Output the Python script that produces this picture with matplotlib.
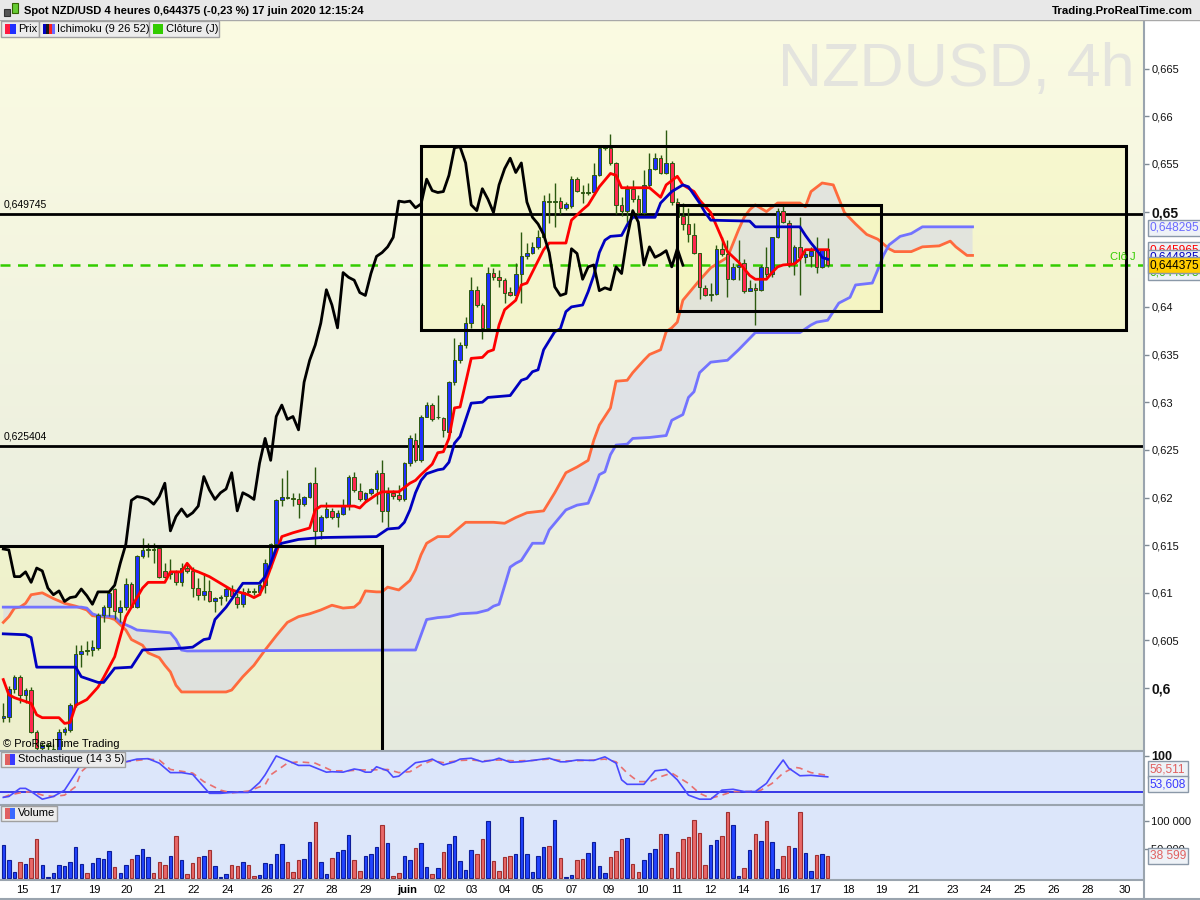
import numpy as np
import matplotlib
matplotlib.use("Agg")
import matplotlib.pyplot as plt
from matplotlib.patches import Rectangle, Polygon

plt.rcParams['font.family'] = ['Liberation Sans', 'DejaVu Sans']

# ---- 4h candles NZD/USD ----
open_ = [0.5969, 0.5970, 0.5999, 0.6012, 0.5993, 0.5998, 0.5954, 0.5937, 0.5939, 0.5934,
         0.5935, 0.5954, 0.5956, 0.5982, 0.6036, 0.6040, 0.6040, 0.6042, 0.6077, 0.6085,
         0.6104, 0.6080, 0.6085, 0.6109, 0.6085, 0.6139, 0.6145, 0.6146, 0.6147, 0.6123,
         0.6120, 0.6122, 0.6111, 0.6126, 0.6123, 0.6105, 0.6098, 0.6102, 0.6091, 0.6095,
         0.6097, 0.6104, 0.6096, 0.6088, 0.6102, 0.6102, 0.6101, 0.6108, 0.6131, 0.6151,
         0.6197, 0.6201, 0.6200, 0.6198, 0.6193, 0.6201, 0.6215, 0.6165, 0.6180, 0.6186,
         0.6180, 0.6183, 0.6191, 0.6222, 0.6207, 0.6198, 0.6205, 0.6209, 0.6226, 0.6186,
         0.6205, 0.6203, 0.6198, 0.6236, 0.6260, 0.6239, 0.6285, 0.6297, 0.6284, 0.6283,
         0.6269, 0.6321, 0.6344, 0.6360, 0.6383, 0.6418, 0.6402, 0.6378, 0.6436, 0.6431,
         0.6428, 0.6416, 0.6412, 0.6435, 0.6453, 0.6457, 0.6463, 0.6473, 0.6511, 0.6510,
         0.6511, 0.6504, 0.6506, 0.6534, 0.6521, 0.6520, 0.6521, 0.6538, 0.6567, 0.6567,
         0.6551, 0.6507, 0.6501, 0.6524, 0.6513, 0.6499, 0.6528, 0.6545, 0.6556, 0.6541,
         0.6551, 0.6510, 0.6495, 0.6487, 0.6475, 0.6457, 0.6420, 0.6412, 0.6414, 0.6461,
         0.6456, 0.6429, 0.6442, 0.6446, 0.6417, 0.6420, 0.6418, 0.6442, 0.6435, 0.6473,
         0.6501, 0.6488, 0.6446, 0.6463, 0.6452, 0.6453, 0.6459, 0.6442, 0.6461]
high_ = [0.5984, 0.6002, 0.6014, 0.6014, 0.6000, 0.6001, 0.5956, 0.5943, 0.5942, 0.5941,
         0.5957, 0.5959, 0.5984, 0.6045, 0.6045, 0.6049, 0.6051, 0.6079, 0.6087, 0.6102,
         0.6105, 0.6093, 0.6116, 0.6111, 0.6140, 0.6158, 0.6152, 0.6152, 0.6150, 0.6131,
         0.6135, 0.6124, 0.6131, 0.6131, 0.6127, 0.6116, 0.6121, 0.6113, 0.6096, 0.6098,
         0.6106, 0.6108, 0.6100, 0.6105, 0.6105, 0.6105, 0.6113, 0.6135, 0.6152, 0.6198,
         0.6221, 0.6229, 0.6205, 0.6205, 0.6202, 0.6216, 0.6232, 0.6182, 0.6195, 0.6189,
         0.6187, 0.6198, 0.6224, 0.6227, 0.6215, 0.6206, 0.6210, 0.6229, 0.6239, 0.6211,
         0.6208, 0.6213, 0.6237, 0.6266, 0.6268, 0.6287, 0.6300, 0.6299, 0.6308, 0.6284,
         0.6322, 0.6367, 0.6363, 0.6389, 0.6431, 0.6422, 0.6404, 0.6442, 0.6441, 0.6439,
         0.6430, 0.6421, 0.6446, 0.6479, 0.6467, 0.6468, 0.6481, 0.6517, 0.6519, 0.6530,
         0.6515, 0.6510, 0.6537, 0.6536, 0.6528, 0.6530, 0.6551, 0.6568, 0.6569, 0.6581,
         0.6552, 0.6515, 0.6528, 0.6533, 0.6517, 0.6544, 0.6561, 0.6561, 0.6559, 0.6586,
         0.6553, 0.6514, 0.6509, 0.6504, 0.6488, 0.6457, 0.6423, 0.6425, 0.6465, 0.6473,
         0.6470, 0.6446, 0.6470, 0.6450, 0.6428, 0.6425, 0.6444, 0.6463, 0.6473, 0.6504,
         0.6507, 0.6491, 0.6465, 0.6494, 0.6459, 0.6463, 0.6473, 0.6461, 0.6472]
low_ = [0.5964, 0.5964, 0.5995, 0.5984, 0.5984, 0.5953, 0.5933, 0.5927, 0.5930, 0.5928,
        0.5930, 0.5951, 0.5954, 0.5980, 0.6022, 0.6035, 0.6034, 0.6040, 0.6069, 0.6076,
        0.6073, 0.6069, 0.6082, 0.6084, 0.6084, 0.6137, 0.6138, 0.6131, 0.6116, 0.6116,
        0.6114, 0.6108, 0.6107, 0.6121, 0.6096, 0.6093, 0.6093, 0.6090, 0.6080, 0.6087,
        0.6091, 0.6095, 0.6084, 0.6085, 0.6098, 0.6098, 0.6098, 0.6100, 0.6126, 0.6150,
        0.6191, 0.6198, 0.6191, 0.6179, 0.6191, 0.6200, 0.6150, 0.6157, 0.6179, 0.6177,
        0.6169, 0.6182, 0.6187, 0.6206, 0.6196, 0.6196, 0.6203, 0.6193, 0.6174, 0.6169,
        0.6198, 0.6196, 0.6196, 0.6233, 0.6237, 0.6237, 0.6284, 0.6280, 0.6282, 0.6263,
        0.6269, 0.6318, 0.6341, 0.6357, 0.6378, 0.6400, 0.6366, 0.6378, 0.6428, 0.6421,
        0.6404, 0.6411, 0.6411, 0.6404, 0.6450, 0.6456, 0.6461, 0.6472, 0.6488, 0.6484,
        0.6497, 0.6502, 0.6504, 0.6521, 0.6509, 0.6517, 0.6517, 0.6537, 0.6565, 0.6549,
        0.6497, 0.6495, 0.6486, 0.6510, 0.6497, 0.6497, 0.6526, 0.6544, 0.6539, 0.6539,
        0.6507, 0.6491, 0.6481, 0.6468, 0.6456, 0.6408, 0.6411, 0.6406, 0.6412, 0.6453,
        0.6410, 0.6428, 0.6428, 0.6415, 0.6417, 0.6381, 0.6417, 0.6431, 0.6431, 0.6472,
        0.6488, 0.6442, 0.6433, 0.6412, 0.6446, 0.6442, 0.6436, 0.6441, 0.6442]
close_ = [0.5971, 0.5999, 0.6012, 0.5993, 0.5998, 0.5954, 0.5937, 0.5940, 0.5940, 0.5936,
          0.5954, 0.5957, 0.5982, 0.6036, 0.6039, 0.6039, 0.6043, 0.6077, 0.6085, 0.6100,
          0.6081, 0.6085, 0.6109, 0.6085, 0.6139, 0.6145, 0.6146, 0.6145, 0.6117, 0.6117,
          0.6122, 0.6111, 0.6126, 0.6123, 0.6105, 0.6098, 0.6102, 0.6091, 0.6095, 0.6096,
          0.6104, 0.6097, 0.6088, 0.6101, 0.6101, 0.6101, 0.6108, 0.6131, 0.6151, 0.6197,
          0.6201, 0.6200, 0.6198, 0.6193, 0.6201, 0.6215, 0.6165, 0.6180, 0.6188, 0.6180,
          0.6184, 0.6191, 0.6222, 0.6208, 0.6198, 0.6205, 0.6209, 0.6226, 0.6186, 0.6205,
          0.6202, 0.6198, 0.6236, 0.6262, 0.6239, 0.6285, 0.6297, 0.6282, 0.6285, 0.6271,
          0.6321, 0.6344, 0.6360, 0.6383, 0.6418, 0.6402, 0.6378, 0.6436, 0.6431, 0.6428,
          0.6415, 0.6412, 0.6435, 0.6453, 0.6457, 0.6463, 0.6473, 0.6511, 0.6510, 0.6511,
          0.6504, 0.6508, 0.6534, 0.6522, 0.6520, 0.6521, 0.6538, 0.6567, 0.6568, 0.6551,
          0.6507, 0.6501, 0.6524, 0.6513, 0.6499, 0.6528, 0.6545, 0.6556, 0.6541, 0.6551,
          0.6510, 0.6494, 0.6487, 0.6476, 0.6457, 0.6421, 0.6412, 0.6414, 0.6461, 0.6456,
          0.6429, 0.6442, 0.6444, 0.6417, 0.6420, 0.6418, 0.6442, 0.6435, 0.6473, 0.6501,
          0.6489, 0.6444, 0.6463, 0.6452, 0.6455, 0.6459, 0.6442, 0.6461, 0.644375]
volume = [58500, 32200, 10500, 28100, 24600, 35100, 68400, 23400, 1200, 8800,
          23400, 21600, 28100, 54400, 24600, 8800, 26300, 35100, 33900, 48000,
          19300, 8800, 23400, 33900, 41000, 51500, 36300, 8800, 28100, 23400,
          39200, 74300, 32200, 7600, 26300, 36900, 39200, 49700, 21600, 1200,
          7000, 23400, 21600, 28100, 23400, 4100, 5900, 26300, 24600, 42700,
          60300, 27500, 10500, 32200, 33900, 63200, 98300, 28100, 7600, 35100,
          45600, 49700, 76100, 32200, 12900, 39200, 42700, 54400, 93600, 61400,
          4100, 8800, 39200, 32200, 52700, 61400, 19900, 7000, 17600, 45600,
          59700, 73700, 29800, 14000, 49700, 42100, 68400, 100600, 29800, 12300,
          36900, 38600, 42100, 107100, 42100, 10500, 38600, 54400, 56200, 101800,
          35100, 1800, 5300, 31600, 33300, 43900, 63200, 21100, 8800, 36900,
          47400, 68400, 70200, 24600, 10500, 31600, 43900, 50900, 77200, 77200,
          17600, 45600, 68400, 72000, 101800, 79000, 22800, 57900, 66700, 73700,
          115800, 93000, 3500, 17600, 49100, 77200, 64900, 100000, 63200, 15800,
          38600, 56200, 52700, 115800, 43900, 12300, 40400, 42100, 38599]

# ---- Ichimoku (9 26 52), sampled along each line ----
tenkan_idx = [0, 1, 2, 3, 5, 6, 7, 10, 11, 12, 13, 15, 17, 18, 20, 21, 22, 23, 25, 26,
              29, 30, 32, 33, 34, 35, 37, 39, 41, 44, 45, 46, 47, 49, 50, 52, 55, 56, 57, 63,
              64, 65, 67, 68, 71, 73, 74, 75, 77, 78, 79, 80, 81, 82, 84, 86, 87, 88, 89, 90,
              92, 93, 94, 97, 98, 101, 102, 104, 105, 107, 109, 110, 111, 116, 118, 119, 121, 122, 124, 125,
              127, 129, 130, 132, 134, 135, 137, 138, 139, 140, 142, 143, 144, 148]
tenkan = [0.6009, 0.5993, 0.5990, 0.5988, 0.5984, 0.5972, 0.5969, 0.5969, 0.5963, 0.5964,
          0.5982, 0.5988, 0.6001, 0.6011, 0.6033, 0.6054, 0.6075, 0.6085, 0.6105, 0.6111,
          0.6111, 0.6122, 0.6122, 0.6131, 0.6124, 0.6122, 0.6117, 0.6110, 0.6103, 0.6098,
          0.6095, 0.6098, 0.6110, 0.6142, 0.6159, 0.6163, 0.6168, 0.6187, 0.6191, 0.6191,
          0.6189, 0.6195, 0.6203, 0.6206, 0.6206, 0.6215, 0.6218, 0.6224, 0.6235, 0.6247,
          0.6248, 0.6262, 0.6294, 0.6295, 0.6346, 0.6347, 0.6353, 0.6355, 0.6381, 0.6397,
          0.6407, 0.6423, 0.6425, 0.6460, 0.6467, 0.6467, 0.6491, 0.6502, 0.6507, 0.6526,
          0.6540, 0.6538, 0.6525, 0.6525, 0.6515, 0.6528, 0.6537, 0.6528, 0.6521, 0.6512,
          0.6499, 0.6472, 0.6458, 0.6447, 0.6433, 0.6429, 0.6429, 0.6436, 0.6442, 0.6444,
          0.6445, 0.6450, 0.6460, 0.6460]
kijun_idx = [0, 4, 5, 6, 13, 14, 17, 18, 20, 23, 25, 32, 34, 36, 37, 38, 40, 43, 46, 47,
             48, 49, 50, 53, 57, 67, 68, 69, 71, 72, 73, 74, 75, 76, 78, 79, 80, 81, 82, 84,
             86, 87, 91, 93, 94, 95, 96, 97, 99, 100, 101, 102, 104, 105, 106, 107, 108, 109, 111, 112,
             113, 117, 118, 120, 122, 123, 125, 126, 127, 134, 135, 143, 144, 145, 146, 147, 148]
kijun = [0.6057, 0.6056, 0.6053, 0.6022, 0.6022, 0.6012, 0.6006, 0.6006, 0.6021, 0.6022,
         0.6040, 0.6042, 0.6043, 0.6051, 0.6052, 0.6072, 0.6085, 0.6110, 0.6110, 0.6117,
         0.6131, 0.6147, 0.6152, 0.6156, 0.6158, 0.6159, 0.6163, 0.6167, 0.6168, 0.6174,
         0.6187, 0.6205, 0.6218, 0.6225, 0.6229, 0.6230, 0.6237, 0.6257, 0.6264, 0.6299,
         0.6300, 0.6305, 0.6307, 0.6323, 0.6325, 0.6332, 0.6334, 0.6355, 0.6374, 0.6377,
         0.6395, 0.6400, 0.6402, 0.6416, 0.6433, 0.6457, 0.6470, 0.6474, 0.6475, 0.6486,
         0.6494, 0.6494, 0.6509, 0.6521, 0.6528, 0.6526, 0.6509, 0.6499, 0.6491, 0.6490,
         0.6484, 0.6484, 0.6475, 0.6467, 0.6460, 0.6452, 0.6450]
senkou_a_idx = [0, 1, 2, 3, 4, 5, 7, 9, 11, 13, 15, 16, 19, 20, 22, 23, 25, 26, 28, 29,
                30, 31, 32, 40, 41, 43, 45, 47, 49, 51, 53, 55, 57, 59, 61, 63, 64, 65, 67, 68,
                69, 71, 73, 74, 75, 76, 78, 80, 81, 82, 83, 88, 90, 92, 94, 97, 99, 101, 103, 105,
                106, 107, 109, 110, 112, 113, 115, 116, 118, 119, 120, 121, 122, 125, 127, 130, 132, 133, 134, 135,
                137, 139, 143, 144, 145, 147, 149, 151, 153, 155, 157, 159, 160, 163, 165, 168, 170, 171, 173, 174]
senkou_a = [0.6069, 0.6075, 0.6084, 0.6085, 0.6089, 0.6098, 0.6100, 0.6094, 0.6089, 0.6086,
            0.6082, 0.6076, 0.6074, 0.6072, 0.6061, 0.6051, 0.6045, 0.6037, 0.6032, 0.6024,
            0.6017, 0.6003, 0.5996, 0.5996, 0.5998, 0.6012, 0.6024, 0.6040, 0.6055, 0.6069,
            0.6075, 0.6078, 0.6082, 0.6087, 0.6084, 0.6085, 0.6090, 0.6102, 0.6101, 0.6101,
            0.6106, 0.6103, 0.6113, 0.6124, 0.6140, 0.6152, 0.6159, 0.6159, 0.6164, 0.6169,
            0.6174, 0.6174, 0.6173, 0.6179, 0.6184, 0.6186, 0.6205, 0.6226, 0.6232, 0.6239,
            0.6260, 0.6276, 0.6294, 0.6322, 0.6323, 0.6331, 0.6344, 0.6350, 0.6355, 0.6374,
            0.6378, 0.6384, 0.6407, 0.6428, 0.6441, 0.6452, 0.6481, 0.6494, 0.6502, 0.6507,
            0.6500, 0.6509, 0.6509, 0.6505, 0.6521, 0.6530, 0.6528, 0.6499, 0.6487, 0.6476,
            0.6471, 0.6461, 0.6458, 0.6458, 0.6463, 0.6464, 0.6469, 0.6463, 0.6454, 0.6454]
senkou_b_idx = [0, 14, 15, 16, 17, 20, 21, 23, 24, 30, 31, 32, 33, 72, 74, 76, 78, 80, 82, 85,
                87, 88, 89, 91, 92, 93, 95, 97, 98, 99, 101, 103, 105, 106, 107, 108, 109, 110, 112, 113,
                116, 119, 120, 122, 123, 124, 125, 127, 130, 132, 135, 143, 145, 146, 148, 150, 152, 153, 156, 157,
                158, 159, 161, 163, 165, 174]
senkou_b = [0.6085, 0.6085, 0.6084, 0.6078, 0.6076, 0.6075, 0.6069, 0.6064, 0.6061, 0.6058,
            0.6051, 0.6040, 0.6039, 0.6040, 0.6040, 0.6072, 0.6074, 0.6075, 0.6078, 0.6079,
            0.6082, 0.6086, 0.6088, 0.6127, 0.6131, 0.6134, 0.6152, 0.6152, 0.6166, 0.6173,
            0.6187, 0.6192, 0.6194, 0.6208, 0.6224, 0.6227, 0.6245, 0.6255, 0.6256, 0.6262,
            0.6263, 0.6265, 0.6281, 0.6287, 0.6305, 0.6311, 0.6331, 0.6342, 0.6344, 0.6355,
            0.6373, 0.6373, 0.6381, 0.6384, 0.6386, 0.6404, 0.6410, 0.6423, 0.6425, 0.6439,
            0.6454, 0.6465, 0.6474, 0.6477, 0.6484, 0.6484]
chikou_shift = 26

# ---- Stochastique (14 3 5) ----
stoch_k_idx = [0, 1, 3, 4, 5, 7, 9, 11, 13, 14, 15, 17, 20, 22, 24, 26, 28, 30, 32, 34,
               37, 39, 41, 44, 46, 47, 49, 51, 53, 55, 57, 58, 59, 61, 63, 64, 65, 66, 67, 69,
               70, 71, 72, 74, 76, 77, 79, 81, 82, 84, 86, 88, 89, 91, 93, 95, 98, 100, 101, 103,
               106, 108, 110, 111, 112, 115, 117, 119, 121, 123, 125, 127, 129, 131, 133, 135, 137, 138, 140, 141,
               143, 145, 148]
stoch_k = [8, 10, 28, 28, 21, 4, 10, 24, 62, 84, 95, 97, 92, 87, 93, 94, 84, 63, 63, 59,
           17, 17, 19, 19, 41, 58, 100, 90, 79, 79, 69, 64, 65, 64, 71, 69, 64, 64, 76, 67,
           53, 55, 65, 85, 89, 93, 80, 87, 93, 95, 87, 91, 95, 86, 87, 90, 95, 87, 87, 91,
           90, 98, 84, 47, 37, 37, 67, 70, 47, 13, 4, 4, 24, 26, 21, 21, 39, 58, 91, 73,
           56, 57, 53.608]
stoch_d_idx = [0, 1, 3, 5, 7, 9, 11, 13, 14, 16, 19, 22, 26, 28, 30, 34, 36, 39, 41, 44,
               47, 48, 51, 53, 56, 58, 59, 62, 64, 66, 69, 71, 73, 75, 77, 79, 82, 84, 86, 89,
               92, 95, 98, 101, 105, 108, 110, 112, 114, 116, 118, 120, 123, 125, 127, 129, 131, 134, 136, 138,
               140, 142, 143, 145, 148]
stoch_d = [8, 13, 18, 21, 13, 10, 13, 32, 65, 87, 93, 87, 93, 91, 70, 62, 43, 24, 18, 22,
           36, 58, 84, 87, 84, 73, 67, 67, 69, 69, 70, 63, 65, 80, 90, 85, 90, 91, 89, 91,
           89, 90, 93, 89, 90, 93, 87, 62, 43, 43, 54, 62, 39, 17, 6, 13, 21, 21, 24, 39,
           62, 75, 73, 63, 56.511]
stoch_level = 20

# ---- levels, boxes, axis labels ----
level_prices = [0.649745, 0.625404]
level_labels = ['0,649745', '0,625404']
close_daily = 0.6444
boxes = [(-3.0, 68.0, 0.5900, 0.6149), (75.0, 201.6, 0.63758, 0.65688), (120.9, 157.6, 0.63957, 0.65069)]
price_ticks = [0.6, 0.605, 0.61, 0.615, 0.62, 0.625, 0.63, 0.635, 0.64, 0.65, 0.655, 0.66, 0.665]
date_pos = [3.4, 9.3, 16.3, 22.2, 28.0, 34.1, 40.2, 47.3, 53.1, 59.0, 65.1, 72.5, 78.4, 84.1, 90.1,
            96.0, 102.1, 108.7, 114.8, 120.9, 126.9, 132.8, 140.0, 145.7, 151.7, 157.6, 163.5, 170.5,
            176.4, 182.4, 188.5, 194.6, 201.4]
date_labels = ['15', '17', '19', '20', '21', '22', '24', '26', '27', '28', '29', 'juin', '02', '03', '04',
               '05', '07', '09', '10', '11', '12', '14', '16', '17', '18', '19', '21', '23',
               '24', '25', '26', '28', '30']

W, H = 1200, 900
fig = plt.figure(figsize=(12, 9), dpi=100)
fig.patch.set_facecolor('#ffffff')


def fx(px):
    return px / W


def fy(py):
    return 1 - py / H


XL = (-0.59, 204.6)
ax = fig.add_axes([0, fy(750), fx(1143), 730 / H])
ax_s = fig.add_axes([0, fy(804), fx(1143), 53 / H])
ax_v = fig.add_axes([0, fy(879), fx(1143), 74 / H])
for a in (ax, ax_s, ax_v):
    a.set_xlim(*XL)
    for s in a.spines.values():
        s.set_visible(False)
    a.tick_params(axis='x', length=0, labelbottom=False)
    a.yaxis.tick_right()
    a.tick_params(axis='y', direction='out', length=4, width=1, color='#7f8a94',
                  labelsize=8, pad=2, labelcolor='#111111')

YL = (0.59351, 0.67010)
ax.set_ylim(*YL)

# background gradient
top = np.array([251, 251, 226]) / 255
bot = np.array([229, 234, 222]) / 255
t = np.linspace(0, 1, 256)[:, None, None]
grad = top * (1 - t) + bot * t
ax.imshow(grad, extent=[XL[0], XL[1], YL[0], YL[1]], aspect='auto', zorder=0, origin='upper')

# watermark
ax.text(1135 / 1143, (750 - 86) / 730, 'NZDUSD, 4h', transform=ax.transAxes, ha='right',
        va='baseline', fontsize=44, color='#e4e4de', zorder=1)

# boxes fill
for x0, x1, y0, y1 in boxes:
    ax.add_patch(Rectangle((x0, y0), x1 - x0, y1 - y0, facecolor='#f7f7b8', alpha=0.45,
                           edgecolor='none', zorder=1.5))

# cloud
poly = list(zip(senkou_a_idx, senkou_a)) + list(zip(senkou_b_idx[::-1], senkou_b[::-1]))
ax.add_patch(Polygon(poly, closed=True, facecolor='#d3d6ec', alpha=0.55, edgecolor='none', zorder=2))
ax.plot(senkou_a_idx, senkou_a, color='#ff6a3d', lw=2, zorder=3, solid_joinstyle='round')
ax.plot(senkou_b_idx, senkou_b, color='#7373ff', lw=2, zorder=3, solid_joinstyle='round')

# levels
for p, lab in zip(level_prices, level_labels):
    ax.axhline(p, color='black', lw=2, zorder=3.5)
    ax.annotate(lab, xy=(0.003, p), xycoords=('axes fraction', 'data'), xytext=(0, 3),
                textcoords='offset points', va='bottom', ha='left', fontsize=7.5, zorder=8)
ax.axhline(close_daily, color='#33cc00', lw=1.8, dashes=(4, 3), zorder=3.5)
ax.annotate('Clô J', xy=(1136 / 1143, close_daily), xycoords=('axes fraction', 'data'),
            xytext=(0, 2), textcoords='offset points', ha='right', va='bottom',
            fontsize=8, color='#33cc00', zorder=8)

# candles
o = np.array(open_)
hh = np.array(high_)
ll = np.array(low_)
c = np.array(close_)
idx = np.arange(len(c))
up = c >= o
ax.vlines(idx, ll, hh, color='#2c5a10', lw=1, zorder=4)
body_lo = np.minimum(o, c)
body_h = np.maximum(np.abs(c - o), 0.00005)
ax.bar(idx, body_h, bottom=body_lo, width=0.64, color=np.where(up, '#1f2fff', '#ff2850'),
       edgecolor='#2c5a10', linewidth=0.7, zorder=4.5)

# ichimoku lines
ax.plot(tenkan_idx, tenkan, color='#ff0000', lw=2, zorder=5)
ax.plot(kijun_idx, kijun, color='#0000c0', lw=2, zorder=5)
ax.plot(idx[:-chikou_shift], c[chikou_shift:], color='black', lw=2, zorder=5)

# box borders
for x0, x1, y0, y1 in boxes:
    ax.add_patch(Rectangle((x0, y0), x1 - x0, y1 - y0, fill=False, edgecolor='black', lw=2.2, zorder=6))

ax.text(3 / 1143, (750 - 744) / 730, '© ProRealTime Trading', transform=ax.transAxes,
        va='center', ha='left', fontsize=8, zorder=8)

# right price axis
ax.set_yticks(price_ticks)
ax.set_yticklabels([('%g' % p).replace('.', ',') for p in price_ticks])
for lab, p in zip(ax.get_yticklabels(), price_ticks):
    if p in (0.6, 0.65):
        lab.set_fontweight('bold')
        lab.set_fontsize(10)


def price_box(a, y, text, fg, bg='#eef2f7', z=10):
    a.annotate(text, xy=(1.0, y), xycoords=('axes fraction', 'data'), xytext=(5, 0),
               textcoords='offset points', ha='left', va='center', fontsize=8.6, color=fg,
               zorder=z, annotation_clip=False,
               bbox=dict(boxstyle='square,pad=0.18', facecolor=bg, edgecolor='#8a98a8', lw=1))


price_box(ax, 0.648295, '0,648295', '#6a6aff')
price_box(ax, 0.645965, '0,645965', '#ff0000')
price_box(ax, 0.64515, '0,644835', '#0000c0')
price_box(ax, 0.64365, '0,644375', '#33bb00')
price_box(ax, 0.644375, '0,644375', '#000000', bg='#ffcc00')

# stochastic
ax_s.set_facecolor('#dce6fa')
ax_s.set_ylim(-6.7, 111)
ax_s.axhline(stoch_level, color='#2a2ae6', lw=1.3)
ax_s.plot(stoch_d_idx, stoch_d, color='#e87070', lw=1.2, dashes=(4, 3))
ax_s.plot(stoch_k_idx, stoch_k, color='#4a4aff', lw=1.2)
ax_s.set_yticks([100])
ax_s.set_yticklabels(['100'], fontweight='bold', fontsize=9)
price_box(ax_s, 70, '56,511', '#e06060')
price_box(ax_s, 37, '53,608', '#3a3aff')

# volume
ax_v.set_facecolor('#dce6fa')
ax_v.set_ylim(-1750, 128000)
ax_v.bar(idx, volume, width=0.62, color=np.where(up, '#2244ff', '#e86868'),
         edgecolor=np.where(up, '#0d1d99', '#a03030'), linewidth=0.8)
ax_v.set_yticks([50000, 100000])
ax_v.set_yticklabels(['50 000', '100 000'])
price_box(ax_v, 38599, '38 599', '#e06060')
ax_v.set_xticks(date_pos)
ax_v.set_xticklabels(date_labels)
ax_v.tick_params(axis='x', labelbottom=True, length=0, pad=4, labelsize=8)
for lab in ax_v.get_xticklabels():
    if lab.get_text() == 'juin':
        lab.set_fontweight('bold')


# frame / separators
def hline_px(y, x0=0, x1=1143, col='#9aa4ae', lw=1.5):
    fig.add_artist(plt.Line2D([fx(x0), fx(x1)], [fy(y), fy(y)], color=col, lw=lw))


def vline_px(x, y0, y1, col='#9aa4ae', lw=1.5):
    fig.add_artist(plt.Line2D([fx(x), fx(x)], [fy(y0), fy(y1)], color=col, lw=lw))


hline_px(750.5)
hline_px(804.5)
hline_px(879.5)
vline_px(1143.5, 20, 899)
hline_px(899, 0, 1200)


def rect_px(x0, y0, x1, y1, fc, ec='none', lw=1, z=20):
    fig.add_artist(Rectangle((fx(x0), fy(y1)), fx(x1 - x0), (y1 - y0) / H, transform=fig.transFigure,
                             facecolor=fc, edgecolor=ec, lw=lw, zorder=z))


# title bar
rect_px(0, 0, 1200, 20, '#e8e8e8')
hline_px(20, 0, 1200, col='#a8a8a8', lw=1)
rect_px(4, 9, 10, 16, '#555555', '#333333', 0.8, 21)
rect_px(12, 3, 18, 13, '#66cc33', '#336600', 0.8, 21)
fig.text(fx(24), fy(10.5), 'Spot NZD/USD 4 heures 0,644375 (-0,23 %) 17 juin 2020 12:15:24',
         fontsize=8.0, fontweight='bold', va='center', ha='left', zorder=22)
fig.text(fx(1193), fy(10.5), 'Trading.ProRealTime.com', fontsize=8.2, fontweight='bold',
         va='center', ha='right', zorder=22)

# legend chips
rect_px(1, 21, 39, 37, '#ececec', '#a0a0a0', 1, 21)
rect_px(5, 24, 10, 34, '#ff1a40', 'none', 1, 22)
rect_px(10, 24, 16, 34, '#1f2fff', 'none', 1, 22)
fig.text(fx(18), fy(29.5), 'Prix', fontsize=8, va='center', zorder=23)
rect_px(39, 21, 149, 37, '#ececec', '#a0a0a0', 1, 21)
for k, col in enumerate(['#0000c0', '#1a1a1a', '#ff2020', '#6a6aff']):
    rect_px(43 + 3 * k, 24, 46 + 3 * k, 34, col, 'none', 1, 22)
fig.text(fx(57), fy(29.5), 'Ichimoku (9 26 52)', fontsize=8, va='center', zorder=23)
rect_px(149, 21, 219, 37, '#ececec', '#a0a0a0', 1, 21)
rect_px(153, 24, 163, 34, '#33cc00', 'none', 1, 22)
fig.text(fx(166), fy(29.5), 'Clôture (J)', fontsize=8, va='center', zorder=23)
rect_px(1, 752, 125, 767, '#ececec', '#a0a0a0', 1, 21)
rect_px(5, 754, 10, 765, '#e06060', 'none', 1, 22)
rect_px(10, 754, 15, 765, '#3a3aff', 'none', 1, 22)
fig.text(fx(18), fy(759.5), 'Stochastique (14 3 5)', fontsize=8, va='center', zorder=23)
rect_px(1, 806, 57, 821, '#ececec', '#a0a0a0', 1, 21)
rect_px(5, 808, 10, 819, '#e06060', 'none', 1, 22)
rect_px(10, 808, 15, 819, '#3a6aff', 'none', 1, 22)
fig.text(fx(18), fy(813.5), 'Volume', fontsize=8, va='center', zorder=23)

fig.savefig('out.png', dpi=100, facecolor=fig.get_facecolor())
